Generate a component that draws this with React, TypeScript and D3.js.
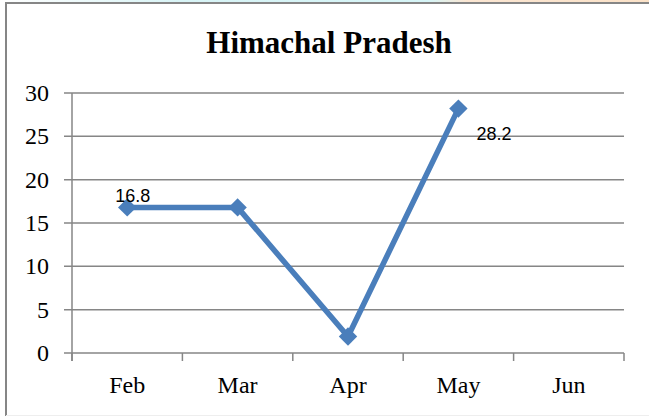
import React from "react";
import { scaleLinear, scaleBand, line, range } from "d3";

const WIDTH = 649;
const HEIGHT = 416;
const PLOT = { left: 72, right: 624, top: 93, bottom: 353 };

const months = ["Feb", "Mar", "Apr", "May", "Jun"];
const values: (number | null)[] = [16.8, 16.8, 1.9, 28.2, null];
const labelled = ["16.8", "", "", "28.2", ""];
const yTicks = [0, 5, 10, 15, 20, 25, 30];

const BLUE = "#4a7ebb";
const GRID = "#868686";

export default function App() {
  const xScale = scaleBand<string>().domain(months).range([PLOT.left, PLOT.right]);
  const yScale = scaleLinear().domain([0, 30]).range([PLOT.bottom, PLOT.top]);
  const cx = (m: string) => (xScale(m) ?? 0) + xScale.bandwidth() / 2;

  const points = months
    .map((m, i) => ({ m, v: values[i], label: labelled[i] }))
    .filter((d) => d.v !== null) as { m: string; v: number; label: string }[];

  const path = line<{ m: string; v: number }>()
    .x((d) => cx(d.m))
    .y((d) => yScale(d.v))(points);

  const boundaries = range(months.length + 1).map(
    (i) => PLOT.left + i * xScale.bandwidth()
  );

  return (
    <svg
      width={WIDTH}
      height={HEIGHT}
      style={{ position: "absolute", left: 0, top: 0, background: "#fff" }}
    >
      <defs>
        <linearGradient id="strip" x1="0" x2="1" y1="0" y2="0">
          <stop offset="0" stopColor="#ffffff" />
          <stop offset="0.28" stopColor="#d8f4f6" />
          <stop offset="0.66" stopColor="#d6f5f7" />
          <stop offset="0.72" stopColor="#fbe6d2" />
          <stop offset="1" stopColor="#fbe2c8" />
        </linearGradient>
      </defs>
      <rect x={0} y={0} width={WIDTH} height={3} fill="url(#strip)" />

      {/* chart frame (cropped on the right) */}
      <line x1={5} x2={WIDTH} y1={3} y2={3} stroke={GRID} strokeWidth={2} />
      <line x1={6} x2={6} y1={3} y2={HEIGHT} stroke={GRID} strokeWidth={2} />
      <line x1={6} x2={WIDTH} y1={415.5} y2={415.5} stroke="#eeeeee" strokeWidth={1} />

      <text
        x={329}
        y={53}
        textAnchor="middle"
        fontFamily="'Liberation Serif', 'Times New Roman', serif"
        fontWeight="bold"
        fontSize={31}
        fill="#000"
      >
        Himachal Pradesh
      </text>

      {/* horizontal gridlines and y labels */}
      {yTicks.map((t) => (
        <g key={t}>
          <line
            x1={PLOT.left - 8}
            x2={PLOT.right}
            y1={yScale(t)}
            y2={yScale(t)}
            stroke={GRID}
            strokeWidth={1.5}
          />
          <text
            x={49}
            y={yScale(t) + 8}
            textAnchor="end"
            fontFamily="'Liberation Serif', 'Times New Roman', serif"
            fontSize={24}
            fill="#000"
          >
            {t}
          </text>
        </g>
      ))}

      {/* axes */}
      <line x1={PLOT.left} x2={PLOT.left} y1={PLOT.top} y2={PLOT.bottom + 8} stroke={GRID} strokeWidth={1.5} />
      {boundaries.map((b, i) => (
        <line key={i} x1={b} x2={b} y1={PLOT.bottom} y2={PLOT.bottom + 8} stroke={GRID} strokeWidth={1.5} />
      ))}
      {months.map((m) => (
        <text
          key={m}
          x={cx(m)}
          y={393}
          textAnchor="middle"
          fontFamily="'Liberation Serif', 'Times New Roman', serif"
          fontSize={24}
          fill="#000"
        >
          {m}
        </text>
      ))}

      {/* series */}
      <path d={path ?? ""} fill="none" stroke={BLUE} strokeWidth={5.5} strokeLinejoin="round" />
      {points.map((d) => (
        <rect
          key={d.m}
          x={cx(d.m) - 6.5}
          y={yScale(d.v) - 6.5}
          width={13}
          height={13}
          fill={BLUE}
          transform={`rotate(45 ${cx(d.m)} ${yScale(d.v)})`}
        />
      ))}
      {points
        .filter((d) => d.label)
        .map((d, i) => (
          <text
            key={d.m}
            x={i === 0 ? cx(d.m) - 12 : cx(d.m) + 18}
            y={i === 0 ? yScale(d.v) - 5 : yScale(d.v) + 31}
            fontFamily="'Liberation Sans', Arial, sans-serif"
            fontSize={18}
            fill="#000"
          >
            {d.label}
          </text>
        ))}
    </svg>
  );
}
